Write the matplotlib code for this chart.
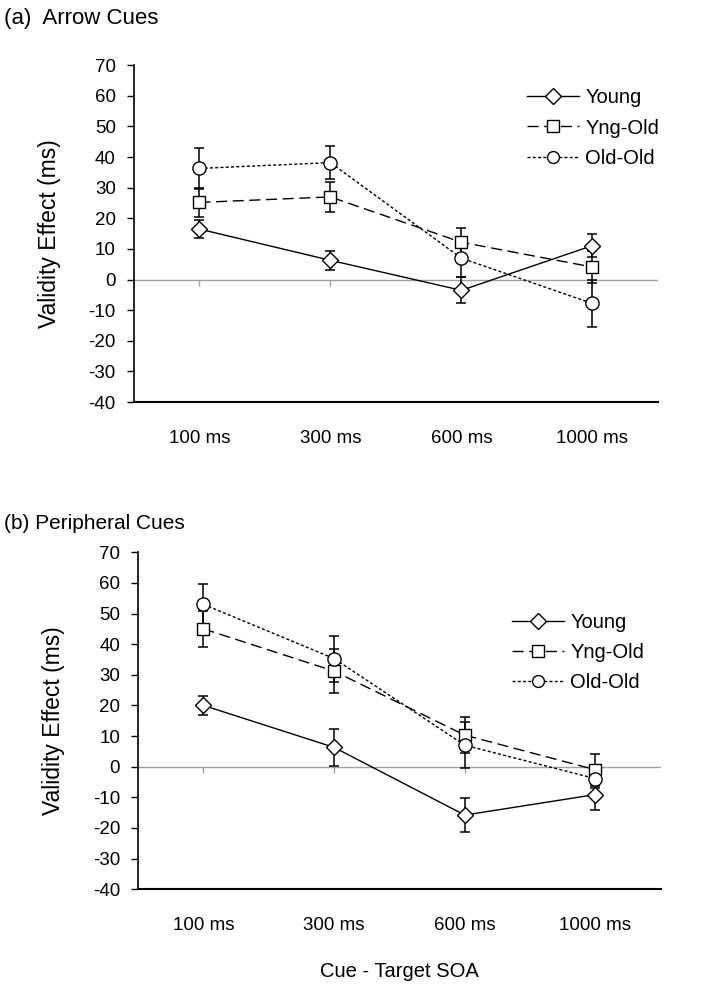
import matplotlib
matplotlib.use("Agg")
import matplotlib.pyplot as plt
from matplotlib.lines import Line2D

plt.rcParams['font.family'] = ['Liberation Sans', 'DejaVu Sans']
plt.rcParams['axes.unicode_minus'] = False

# ---- data ----
soa_labels = ['100 ms', '300 ms', '600 ms', '1000 ms']

# (a) Arrow cues
arrow_young = [16.5, 6.3, -3.5, 11.1]
arrow_young_err = [3.0, 3.2, 4.3, 3.7]
arrow_yngold = [25.2, 27.0, 12.2, 4.1]
arrow_yngold_err = [4.7, 4.8, 4.8, 5.2]
arrow_oldold = [36.3, 38.2, 7.0, -7.8]
arrow_oldold_err = [6.7, 5.3, 6.0, 7.8]

# (b) Peripheral cues
periph_young = [20.0, 6.3, -15.8, -9.1]
periph_young_err = [3.0, 6.0, 5.5, 5.0]
periph_yngold = [45.0, 31.2, 10.3, -1.0]
periph_yngold_err = [5.8, 7.2, 5.8, 5.2]
periph_oldold = [53.0, 35.3, 7.0, -3.9]
periph_oldold_err = [6.7, 7.5, 7.5, 3.0]

# ---- style ----
styles = {
    'Young':   dict(ls='-', marker='D', ms=8.5),
    'Yng-Old': dict(ls=(0, (8, 4)), marker='s', ms=9),
    'Old-Old': dict(ls=(0, (2.2, 1.6)), marker='o', ms=9.5),
}


def draw_panel(ax, series, legend_anchor, show_xlabel):
    x = list(range(len(soa_labels)))
    # zero line with small ticks, like an Excel category axis crossing at 0
    ax.axhline(0, color='#a0a0a0', lw=1.0, zorder=1)
    ax.plot(x, [0] * len(x), ls='none', marker=3, ms=4, color='#a0a0a0',
            mew=1.0, zorder=1)

    handles = []
    for name, vals, errs in series:
        st = styles[name]
        ax.errorbar(x, vals, yerr=errs, fmt='none', ecolor='black',
                    elinewidth=1.1, capsize=3.5, capthick=1.1, zorder=3)
        ax.plot(x, vals, color='black', lw=1.0, ls=st['ls'], zorder=4)
        ax.plot(x, vals, ls='none', marker=st['marker'], ms=st['ms'],
                mfc='white', mec='black', mew=1.0, zorder=5)
        handles.append(Line2D([0], [0], color='black', lw=1.0, ls=st['ls'],
                              marker=st['marker'], ms=st['ms'] * 0.9,
                              mfc='white', mec='black', mew=1.0, label=name))

    ax.set_xlim(-0.5, 3.5)
    ax.set_ylim(-40, 70)
    ax.set_yticks(range(-40, 71, 10))
    ax.set_xticks(x)
    ax.set_xticklabels(soa_labels)
    ax.tick_params(axis='x', length=0, pad=20, labelsize=13.5)
    ax.tick_params(axis='y', direction='out', length=5, width=1.0,
                   labelsize=13.5, pad=8)
    ax.spines['top'].set_visible(False)
    ax.spines['right'].set_visible(False)
    ax.spines['left'].set_linewidth(1.2)
    ax.spines['bottom'].set_linewidth(1.5)
    ax.set_ylabel('Validity Effect (ms)', fontsize=16.5, labelpad=20)

    ax.legend(handles=handles, loc='upper left', bbox_to_anchor=legend_anchor,
              frameon=False, fontsize=14.5, handlelength=2.6,
              handletextpad=0.3, labelspacing=0.55, borderaxespad=0)
    if show_xlabel:
        ax.set_xlabel('Cue - Target SOA', fontsize=14.5, labelpad=20)


fig = plt.figure(figsize=(7.12, 9.88), dpi=100, facecolor='white')

ax1 = fig.add_axes([0.188, 0.593, 0.736, 0.341])
draw_panel(ax1, [('Young', arrow_young, arrow_young_err),
                 ('Yng-Old', arrow_yngold, arrow_yngold_err),
                 ('Old-Old', arrow_oldold, arrow_oldold_err)],
           (0.735, 0.955), False)

ax2 = fig.add_axes([0.194, 0.100, 0.734, 0.341])
draw_panel(ax2, [('Young', periph_young, periph_young_err),
                 ('Yng-Old', periph_yngold, periph_yngold_err),
                 ('Old-Old', periph_oldold, periph_oldold_err)],
           (0.70, 0.845), True)

fig.text(0.006, 0.981, '(a)  Arrow Cues', fontsize=16, ha='left', va='center')
fig.text(0.006, 0.470, '(b) Peripheral Cues', fontsize=15, ha='left', va='center')

fig.savefig('out.png', dpi=100, facecolor='white')
